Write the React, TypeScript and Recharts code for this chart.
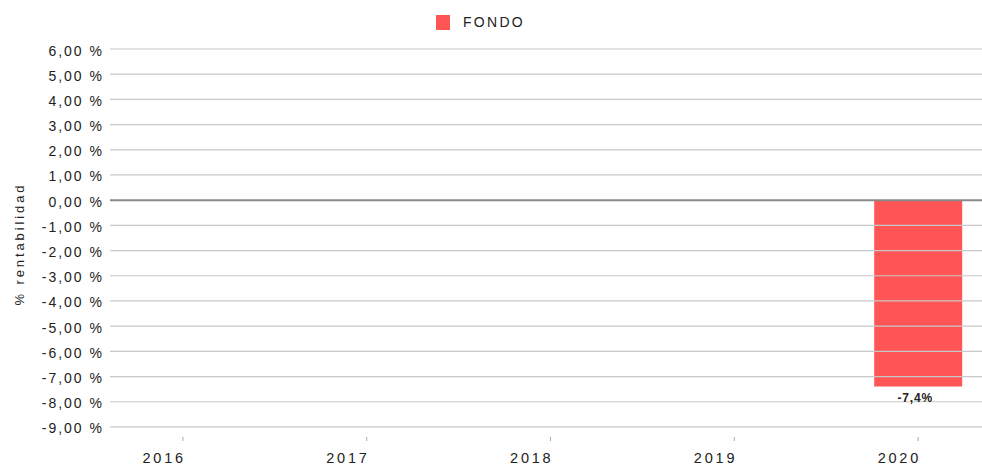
import React from "react";
import {
  BarChart,
  Bar,
  XAxis,
  YAxis,
  ReferenceLine,
  LabelList,
  Label,
} from "recharts";

const years = ["2016", "2017", "2018", "2019", "2020"];
const fondo: (number | null)[] = [null, null, null, null, -7.4];
const yTicks = [-9, -8, -7, -6, -5, -4, -3, -2, -1, 0, 1, 2, 3, 4, 5, 6];

const BAR = "#FF5555";
const TEXT = "#222222";
const FONT = "'Liberation Sans', Arial, sans-serif";

const data = years.map((y, i) => ({ year: y, fondo: fondo[i] }));

const fmtPct = (v: number) => v.toFixed(2).replace(".", ",") + " %";

function YTick(props: any) {
  const { y, payload } = props;
  return (
    <text
      x={104}
      y={y}
      dy={6.5}
      textAnchor="end"
      fontSize={14}
      letterSpacing={2}
      fill={TEXT}
      fontFamily={FONT}
    >
      {fmtPct(payload.value)}
    </text>
  );
}

function XTick(props: any) {
  const { x, payload } = props;
  return (
    <g>
      <line x1={x} x2={x} y1={437} y2={441} stroke="#aaaaaa" />
      <text
        x={x + 3}
        y={463}
        textAnchor="end"
        fontSize={14.5}
        letterSpacing={2.8}
        fill={TEXT}
        fontFamily={FONT}
      >
        {payload.value}
      </text>
    </g>
  );
}

function BarValue(props: any) {
  const { x, y, width, height, value } = props;
  if (value == null) return null;
  const cx = x + width / 2 - 3;
  const bottom = Math.max(y, y + height);
  return (
    <text
      x={cx}
      y={bottom + 15}
      textAnchor="middle"
      fontSize={12}
      fontWeight="bold"
      letterSpacing={0.8}
      fill={TEXT}
      fontFamily={FONT}
    >
      {String(value).replace(".", ",") + "%"}
    </text>
  );
}

export default function App() {
  return (
    <div style={{ position: "relative", width: 982, height: 466, fontFamily: FONT }}>
      <style>{"html,body{margin:0;padding:0;overflow:hidden}"}</style>
      <div
        style={{
          position: "absolute",
          left: 436,
          top: 15,
          display: "flex",
          alignItems: "center",
          zIndex: 2,
        }}
      >
        <span style={{ display: "inline-block", width: 14, height: 15, background: BAR }} />
        <span
          style={{
            marginLeft: 13,
            fontSize: 14,
            letterSpacing: 2.3,
            color: TEXT,
            lineHeight: "15px",
          }}
        >
          FONDO
        </span>
      </div>
      <BarChart
        width={982}
        height={466}
        data={data}
        margin={{ top: 49, right: 0, left: 0, bottom: 0 }}
      >
        <XAxis
          dataKey="year"
          axisLine={false}
          tickLine={false}
          tickSize={0}
          tickMargin={0}
          height={29}
          padding={{ left: -19, right: -28 }}
          tick={<XTick />}
          interval={0}
        />
        <YAxis
          width={110}
          domain={[-9.4, 6]}
          ticks={yTicks}
          allowDataOverflow
          axisLine={false}
          tickLine={false}
          tickSize={0}
          tick={<YTick />}
          interval={0}
        >
          <Label
            content={() => (
              <text
                x={24}
                y={244}
                transform="rotate(-90 24 244)"
                textAnchor="middle"
                fontSize={13}
                letterSpacing={2.9}
                fill={TEXT}
                fontFamily={FONT}
              >
                % rentabilidad
              </text>
            )}
          />
        </YAxis>
        {yTicks
          .filter((v) => v !== 0)
          .map((v) => (
            <ReferenceLine key={v} y={v} stroke="#c8c8c8" strokeWidth={1.2} />
          ))}
        <ReferenceLine y={0} stroke="#888888" strokeWidth={2} />
        <Bar dataKey="fondo" fill={BAR} barSize={88} isAnimationActive={false}>
          <LabelList dataKey="fondo" content={<BarValue />} />
        </Bar>
      </BarChart>
    </div>
  );
}
